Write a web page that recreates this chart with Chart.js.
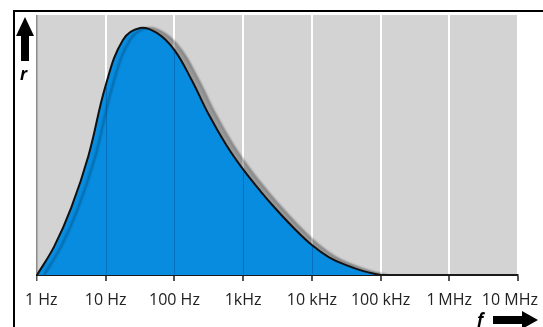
<!DOCTYPE html>
<html>
<head>
<meta charset="utf-8">
<script src="https://cdn.jsdelivr.net/npm/chart.js@4/dist/chart.umd.min.js"></script>
<style>
    html, body { margin: 0; padding: 0; background: #fff; }
    #wrap { width: 543px; height: 327px; position: relative; }
</style>
</head>
<body>
<div id="wrap"><canvas id="respChart"></canvas></div>
<script>
// frequency response (relative, 0..100), quarter-decade steps
const freqHz   = [1, 1.78, 3.16, 5.62, 10, 17.8, 31.6, 56.2, 100, 178, 316, 562, 1000, 1780, 3160, 5620, 10000, 17800, 31600, 56200, 100000];
const response = [0, 11, 26, 46, 73, 90.4, 95, 93, 86.5, 75, 61.7, 50.2, 40.6, 32.3, 24.7, 17.7, 11.5, 6.8, 3.8, 1.5, 0];

const tickFreqs  = [1, 10, 100, 1000, 10000, 100000, 1000000, 10000000];
const tickLabels = ['1 Hz', '10 Hz', '100 Hz', '1kHz', '10 kHz', '100 kHz', '1\u2009MHz', '10 MHz'];

const points = freqHz.map((f, i) => ({x: f, y: response[i]}));

const decor = {
    id: 'decor',
    beforeDraw(chart) {
        const {ctx, chartArea: a} = chart;
        ctx.save();
        ctx.fillStyle = '#d3d3d3';
        ctx.fillRect(a.left, a.top, a.right - a.left, a.bottom - a.top);
        ctx.restore();
    },
    beforeDatasetsDraw(chart) {
        const ctx = chart.ctx;
        ctx.save();
        ctx.shadowColor = 'rgba(0,0,0,0.28)';
        ctx.shadowOffsetX = 7;
        ctx.shadowOffsetY = 0;
        ctx.shadowBlur = 2;
    },
    afterDatasetsDraw(chart) {
        const ctx = chart.ctx;
        ctx.restore();
        // darker decade lines seen through the blue area
        const meta = chart.getDatasetMeta(0);
        const bottom = chart.chartArea.bottom;
        ctx.save();
        ctx.strokeStyle = 'rgba(0,50,110,0.3)';
        ctx.lineWidth = 1;
        meta.data.forEach((pt, i) => {
            if (i === 0 || !tickFreqs.includes(freqHz[i])) return;
            if (pt.y >= bottom - 1) return;
            const x = Math.round(pt.x) + 0.5;
            ctx.beginPath();
            ctx.moveTo(x, pt.y + 2);
            ctx.lineTo(x, bottom - 1);
            ctx.stroke();
        });
        ctx.restore();
    },
    afterDraw(chart) {
        const {ctx, chartArea: a, width} = chart;
        const xs = chart.scales.x;
        ctx.save();

        // tick labels
        ctx.font = '16px "Open Sans"';
        ctx.fillStyle = '#222';
        ctx.textBaseline = 'alphabetic';
        ctx.textAlign = 'left';
        tickFreqs.forEach((v, i) => {
            const w = ctx.measureText(tickLabels[i]).width;
            let left = xs.getPixelForValue(v) - w / 2;
            left = Math.max(left, 25);
            left = Math.min(left, width - 5 - w);
            ctx.fillText(tickLabels[i], left, a.bottom + 30);
        });

        // frame (top and left)
        ctx.strokeStyle = '#000';
        ctx.lineWidth = 2;
        ctx.beginPath();
        ctx.moveTo(14, 327);
        ctx.lineTo(14, 11);
        ctx.lineTo(543, 11);
        ctx.stroke();

        // up arrow + r
        ctx.fillStyle = '#000';
        ctx.beginPath();
        ctx.moveTo(25, 17);
        ctx.lineTo(34, 36);
        ctx.lineTo(29, 36);
        ctx.lineTo(29, 61);
        ctx.lineTo(21, 61);
        ctx.lineTo(21, 36);
        ctx.lineTo(16, 36);
        ctx.closePath();
        ctx.fill();
        ctx.font = 'italic bold 17px "Open Sans"';
        ctx.fillText('r', 20, 80);

        // right arrow + f
        ctx.beginPath();
        ctx.moveTo(538, 320);
        ctx.lineTo(522, 311);
        ctx.lineTo(522, 316);
        ctx.lineTo(493, 316);
        ctx.lineTo(493, 324);
        ctx.lineTo(522, 324);
        ctx.lineTo(522, 329);
        ctx.closePath();
        ctx.fill();
        ctx.fillText('f', 477, 326);

        ctx.restore();
    }
};

new Chart(document.getElementById('respChart'), {
    type: 'line',
    data: {
        datasets: [{
            data: points,
            borderColor: '#111',
            borderWidth: 2,
            backgroundColor: '#078ce0',
            fill: 'origin',
            pointRadius: 0,
            tension: 0.4
        }]
    },
    options: {
        responsive: true,
        maintainAspectRatio: false,
        animation: false,
        layout: {
            padding: {left: 37, right: 25, top: 15, bottom: 46}
        },
        plugins: {
            legend: {display: false},
            tooltip: {enabled: false}
        },
        scales: {
            x: {
                type: 'logarithmic',
                min: 1,
                max: 10000000,
                afterBuildTicks: (scale) => {
                    scale.ticks = tickFreqs.map(v => ({value: v}));
                },
                ticks: {display: false},
                grid: {
                    color: (c) => c.index === 0 ? '#8c8c8c' : '#ffffff',
                    lineWidth: (c) => c.index === 0 ? 1.5 : 2,
                    tickColor: '#555',
                    tickLength: 6
                },
                border: {color: '#1a1a1a', width: 2}
            },
            y: {
                display: false,
                min: 0,
                max: 100
            }
        }
    },
    plugins: [decor]
});
</script>
</body>
</html>
